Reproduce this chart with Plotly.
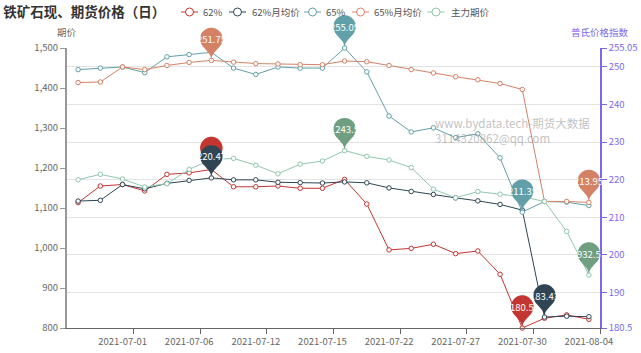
import numpy as np
import plotly.graph_objects as go

# ---------------- data ----------------
dates = ['2021-06-29', '2021-06-30', '2021-07-01', '2021-07-02', '2021-07-05', '2021-07-06',
         '2021-07-07', '2021-07-08', '2021-07-12', '2021-07-13', '2021-07-14', '2021-07-15',
         '2021-07-16', '2021-07-19', '2021-07-22', '2021-07-23', '2021-07-26', '2021-07-27',
         '2021-07-28', '2021-07-29', '2021-07-30', '2021-08-02', '2021-08-03', '2021-08-04']

series_names = ['62%', '62%月均价', '65%', '65%月均价', '主力期价']

p62 = [213.9, 218.3, 218.7, 217.0, 221.4, 221.8, 222.7, 218.1, 218.1, 218.3, 217.7, 217.7,
       220.05, 213.5, 201.3, 201.7, 202.8, 200.3, 201.0, 194.8, 180.5, 183.1, 184.0, 182.8]
p62_avg = [214.3, 214.5, 218.7, 217.55, 219.0, 219.8, 220.47, 219.95, 219.95, 219.3, 219.2, 219.1,
           219.4, 219.15, 217.8, 216.85, 216.05, 215.15, 214.35, 213.4, 211.9, 183.43, 183.65, 183.5]
p65 = [249.3, 249.7, 250.0, 248.5, 252.7, 253.3, 253.9, 249.7, 248.0, 250.0, 249.7, 249.7,
       255.05, 248.7, 236.95, 232.7, 233.8, 231.2, 232.2, 225.8, 211.35, 214.2, 214.0, 213.1]
p65_avg = [245.85, 246.0, 250.0, 249.3, 250.4, 251.2, 251.75, 251.3, 250.9, 250.8, 250.6, 250.6,
           251.6, 251.4, 250.4, 249.3, 248.4, 247.4, 246.6, 245.6, 244.0, 214.2, 214.2, 213.95]
futures = [1170.7, 1184.2, 1172.5, 1152.5, 1160.8, 1196.7, 1221.0, 1224.0, 1207.0, 1185.5, 1209.5, 1217.5,
           1243.5, 1229.0, 1220.0, 1201.0, 1147.0, 1125.5, 1141.0, 1134.5, 1128.0, 1116.5, 1041.5, 932.5]

label_idx = [2, 5, 8, 11, 14, 17, 20, 23]
left_ticks = [800, 900, 1000, 1100, 1200, 1300, 1400, 1500]
right_ticks = [180.5, 190, 200, 210, 220, 230, 240, 250, 255.05]
right_ticktext = ['180.5', '190', '200', '210', '220', '230', '240', '250', '255.05']

# ---------------- style / layout constants ----------------
colors = ['#c23531', '#2f4554', '#61a0a8', '#d48265', '#91c7ae']
pin_colors = ['#c23531', '#2f4554', '#61a0a8', '#d48265', '#6f9e80']
purple = '#7b68ee'
FONT = 'Noto Sans CJK SC, Noto Sans, sans-serif'
R_RANGE = [180.5, 255.05]
L_RANGE = [800, 1500]
W, H = 641, 353
ML, MR, MT, MB = 67, 41, 48, 25
PW, PH = W - ML - MR, H - MT - MB


def px_x(px):
    return (px - ML) / PW


def px_y(py):
    return 1 - (py - MT) / PH


all_series = [p62, p62_avg, p65, p65_avg, futures]
axes = ['y', 'y', 'y', 'y', 'y2']
x = list(range(len(dates)))

fig = go.Figure()
for name, vals, col, ax in zip(series_names, all_series, colors, axes):
    fig.add_trace(go.Scatter(
        x=x, y=vals, name=name, yaxis=ax, mode='lines+markers', showlegend=False,
        line=dict(color=col, width=1),
        marker=dict(symbol='circle', size=4.5, color='white', line=dict(color=col, width=1)),
        cliponaxis=False, hoverinfo='skip'))


# ---------------- mark points (pins) ----------------
def pin_path(S=37.5, n=28):
    w = 0.6 * S
    h = S
    r = w / 2
    dy = r * r / (h - r)
    cyo = h - r - dy
    ang = np.arcsin(dy / r)
    dx = np.cos(ang) * r
    tx, ty = np.sin(ang), np.cos(ang)
    c1, c2 = 0.6 * r, 0.7 * r
    th = np.linspace(np.pi + ang, -ang, n)
    pts = [(r * np.cos(t), cyo + r * np.sin(t)) for t in th]
    d = 'M%.2f,%.2f' % pts[0] + ''.join('L%.2f,%.2f' % p for p in pts[1:])
    ay = cyo - dy
    d += 'C%.2f,%.2f %.2f,%.2f 0,0' % (dx - tx * c1, ay - ty * c1, 0, c2)
    d += 'C%.2f,%.2f %.2f,%.2f %.2f,%.2f Z' % (0, c2, -dx + tx * c1, ay - ty * c1, -dx, ay)
    return d, cyo


PIN, PIN_CY = pin_path()
shapes = []
annotations = []
for k, (vals, col, ax) in enumerate(zip(all_series, pin_colors, axes)):
    lo, hi = (L_RANGE if ax == 'y2' else R_RANGE)
    arr = np.array(vals)
    for j, idx in enumerate([int(arr.argmax()), int(arr.argmin())]):
        v = vals[idx]
        shapes.append(dict(type='path', path=PIN, xref='x', yref='paper',
                           xsizemode='pixel', ysizemode='pixel',
                           xanchor=idx, yanchor=(v - lo) / (hi - lo),
                           fillcolor=col, line=dict(width=0), layer='above'))
        if k == 0 and j == 0:
            continue  # hidden behind the 62%月均价 pin in the original
        annotations.append(dict(x=idx, y=v, xref='x', yref=ax, yshift=PIN_CY,
                                text=('%g' % v), showarrow=False,
                                font=dict(color='white', size=9.5, family=FONT)))

# ---------------- custom legend ----------------
legend_icon_cx = [189.5, 237.5, 312.5, 360.5, 436]   # icon centres (px)
legend_text_x = [201, 250, 324, 372, 449]            # text left edges (px)
LEG_Y = 12
for name, col, cx, tx in zip(series_names, colors, legend_icon_cx, legend_text_x):
    shapes.append(dict(type='line', xref='paper', yref='paper',
                       x0=px_x(cx - 8.5), x1=px_x(cx + 8.5), y0=px_y(LEG_Y), y1=px_y(LEG_Y),
                       line=dict(color=col, width=1)))
    shapes.append(dict(type='circle', xref='paper', yref='paper', xsizemode='pixel', ysizemode='pixel',
                       xanchor=px_x(cx), yanchor=px_y(LEG_Y), x0=-4, x1=4, y0=-4, y1=4,
                       fillcolor='white', line=dict(color=col, width=1)))
    annotations.append(dict(x=px_x(tx), y=px_y(LEG_Y), xref='paper', yref='paper', text=name,
                            showarrow=False, xanchor='left', yanchor='middle',
                            font=dict(size=9.5, color='#555', family=FONT)))

# axis names
annotations.append(dict(x=0, y=px_y(32), xref='paper', yref='paper', text='期价', showarrow=False,
                        xanchor='center', yanchor='middle', font=dict(size=9.5, color='#666', family=FONT)))
annotations.append(dict(x=1, y=px_y(32), xref='paper', yref='paper', text='普氏价格指数', showarrow=False,
                        xanchor='center', yanchor='middle', font=dict(size=9.5, color=purple, family=FONT)))
# watermark
annotations.append(dict(x=px_x(433), y=px_y(130), xref='paper', yref='paper',
                        text='www.bydata.tech-期货大数据<br>3114320862@qq.com',
                        showarrow=False, xanchor='left', yanchor='middle', align='left',
                        font=dict(size=11.5, color='rgba(140,140,140,0.55)', family=FONT)))

fig.update_layout(
    width=W, height=H,
    margin=dict(l=ML, r=MR, t=MT, b=MB, autoexpand=False),
    paper_bgcolor='white', plot_bgcolor='white',
    font=dict(family=FONT, size=9.5, color='#666'),
    showlegend=False,
    title=dict(text='<b>铁矿石现、期货价格（日）</b>', x=0.005, xanchor='left', xref='container',
               y=1 - 12 / H, yanchor='middle', yref='container',
               font=dict(size=13.5, color='#333', family=FONT)),
    xaxis=dict(range=[-0.5, 23.5], tickmode='array',
               tickvals=[i + 0.5 for i in label_idx], ticktext=[dates[i] for i in label_idx],
               ticklabelshift=-11, ticks='outside', ticklen=5, tickcolor='#666',
               showline=True, linecolor='#666', linewidth=1, showgrid=False, zeroline=False,
               tickfont=dict(size=9.5, color='#666')),
    yaxis=dict(side='right', range=R_RANGE, tickmode='array', tickvals=right_ticks, ticktext=right_ticktext,
               showgrid=True, gridcolor='#e3e3e3', gridwidth=1, zeroline=False,
               showline=True, linecolor=purple, linewidth=1.5,
               ticks='outside', ticklen=5, tickcolor=purple,
               tickfont=dict(size=9.5, color=purple)),
    yaxis2=dict(side='left', overlaying='y', range=L_RANGE, tickmode='array', tickvals=left_ticks,
                tickformat=',d', showgrid=False, zeroline=False,
                showline=True, linecolor='#999', linewidth=2,
                ticks='outside', ticklen=5, tickcolor='#999',
                tickfont=dict(size=9.5, color='#666')),
    shapes=shapes,
    annotations=annotations,
)

fig.write_html('out.html')
